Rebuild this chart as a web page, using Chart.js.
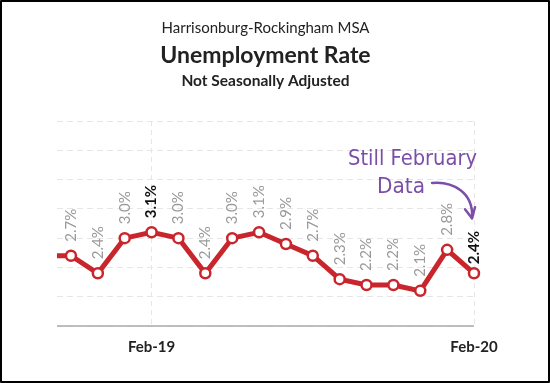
<!DOCTYPE html>
<html>
<head>
<meta charset="utf-8">
<script src="https://cdn.jsdelivr.net/npm/chart.js@4.4.1/dist/chart.umd.min.js"></script>
<style>
  html, body { margin: 0; padding: 0; background: #fff; }
  #wrap { width: 550px; height: 383px; position: relative; }
</style>
</head>
<body>
<div id="wrap"><canvas id="c" width="550" height="383"></canvas></div>
<script>
// ---- data ----
const months = ['Oct-18','Nov-18','Dec-18','Jan-19','Feb-19','Mar-19','Apr-19','May-19','Jun-19','Jul-19','Aug-19','Sep-19','Oct-19','Nov-19','Dec-19','Jan-20','Feb-20'];
const rates  = [2.7, 2.7, 2.4, 3.0, 3.1, 3.0, 2.4, 3.0, 3.1, 2.9, 2.7, 2.3, 2.2, 2.2, 2.1, 2.8, 2.4];
const tickLabels = ['Feb-19', 'Feb-20'];
const boldLabels = ['Feb-19', 'Feb-20'];
const titleLines = ['Harrisonburg-Rockingham MSA', 'Unemployment Rate', 'Not Seasonally Adjusted'];
const noteLines = ['Still February', 'Data'];

const points = months.map((m, i) => ({ x: i, y: rates[i] }));
const tickIdx = tickLabels.map(t => months.indexOf(t));

const FONT = 'Lato, "Open Sans", sans-serif';

const decor = {
  id: 'decor',
  beforeDatasetsDraw(chart) {
    // solid x axis baseline
    const ctx = chart.ctx;
    const ca = chart.chartArea;
    const y0 = chart.scales.y.getPixelForValue(chart.scales.y.min);
    ctx.save();
    ctx.strokeStyle = '#aaaaaa';
    ctx.lineWidth = 1.5;
    ctx.setLineDash([]);
    ctx.beginPath();
    ctx.moveTo(ca.left, y0);
    ctx.lineTo(ca.right, y0);
    ctx.stroke();
    ctx.restore();
  },
  afterDraw(chart) {
    const ctx = chart.ctx;
    const ca = chart.chartArea;
    const cx = (ca.left + ca.right) / 2;
    ctx.save();
    // titles
    ctx.fillStyle = '#222';
    ctx.textAlign = 'center';
    ctx.textBaseline = 'alphabetic';
    ctx.font = '15px ' + FONT;
    ctx.fillText(titleLines[0], cx, 33);
    ctx.font = 'bold 23px ' + FONT;
    ctx.fillText(titleLines[1], cx, 63);
    ctx.font = 'bold 15.5px ' + FONT;
    ctx.fillText(titleLines[2], cx, 86);

    // data labels
    const meta = chart.getDatasetMeta(0);
    const xs = chart.scales.x;
    meta.data.forEach((pt, i) => {
      if (points[i].x < xs.min) return;
      const bold = boldLabels.includes(months[i]);
      const gap = (i === months.length - 1) ? 9 : 14;
      ctx.save();
      ctx.translate(pt.x, pt.y - gap);
      ctx.rotate(-Math.PI / 2);
      ctx.textAlign = 'left';
      ctx.textBaseline = 'middle';
      ctx.font = (bold ? 'bold ' : '') + '15px ' + FONT;
      ctx.fillStyle = bold ? '#111' : '#9a9a9a';
      ctx.fillText(rates[i].toFixed(1) + '%', 0, 0);
      ctx.restore();
    });

    // annotation
    const last = meta.data[meta.data.length - 1];
    ctx.fillStyle = '#7b4ea8';
    ctx.strokeStyle = '#7b4ea8';
    ctx.textAlign = 'left';
    ctx.textBaseline = 'alphabetic';
    ctx.font = '21px "DejaVu Sans", sans-serif';
    ctx.fillText(noteLines[0], 348, 165, 129);
    ctx.fillText(noteLines[1], 377, 193, 48);
    ctx.lineWidth = 2.5;
    ctx.lineCap = 'round';
    ctx.lineJoin = 'round';
    const tx = last.x - 2, ty = last.y - 55;
    ctx.beginPath();
    ctx.moveTo(432, 183);
    ctx.bezierCurveTo(452, 181, tx + 2, 192, tx, ty);
    ctx.stroke();
    ctx.beginPath();
    ctx.moveTo(tx - 7, ty - 9);
    ctx.lineTo(tx, ty);
    ctx.lineTo(tx + 3, ty - 11);
    ctx.stroke();

    // border
    ctx.strokeStyle = '#000';
    ctx.lineWidth = 2;
    ctx.strokeRect(1, 1, chart.width - 2, chart.height - 2);
    ctx.restore();
  }
};

new Chart(document.getElementById('c'), {
  type: 'line',
  data: {
    datasets: [{
      data: points,
      borderColor: '#c9252c',
      borderWidth: 5,
      pointRadius: 5,
      pointHoverRadius: 5,
      pointBorderWidth: 2.5,
      pointBackgroundColor: '#fff',
      pointBorderColor: '#c9252c',
      tension: 0,
      clip: { left: 0, top: false, right: false, bottom: false }
    }]
  },
  options: {
    responsive: false,
    animation: false,
    events: [],
    layout: { padding: { left: 57, right: 76, top: 121, bottom: 15 } },
    plugins: { legend: { display: false }, tooltip: { enabled: false }, title: { display: false } },
    scales: {
      x: {
        type: 'linear',
        min: 0.48,
        max: months.length - 1,
        afterBuildTicks(scale) { scale.ticks = tickIdx.map(v => ({ value: v })); },
        ticks: {
          autoSkip: false,
          maxRotation: 0,
          padding: 12,
          color: '#222',
          font: { family: FONT, size: 15, weight: 'bold' },
          callback: (v) => months[v]
        },
        grid: { color: '#e6e6e6', drawTicks: false, lineWidth: 1 },
        border: { display: false, dash: [5, 4] }
      },
      y: {
        min: 1.5,
        max: 5.0,
        ticks: { display: false, stepSize: 0.5 },
        grid: { color: '#e6e6e6', drawTicks: false, lineWidth: 1 },
        border: { display: false, dash: [6, 4] }
      }
    }
  },
  plugins: [decor]
});
</script>
</body>
</html>
